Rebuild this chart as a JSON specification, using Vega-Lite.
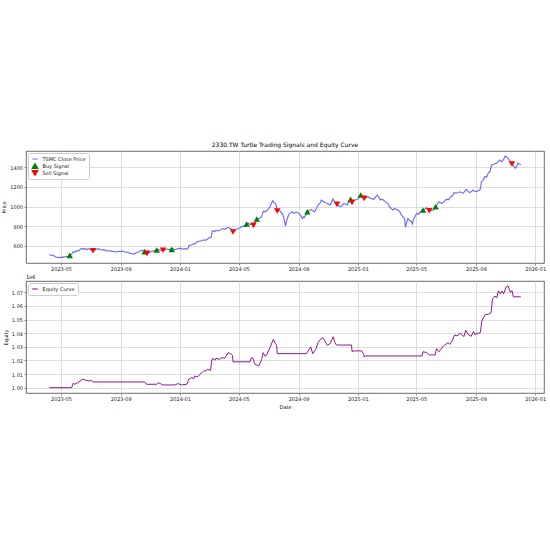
{
  "$schema": "https://vega.github.io/schema/vega-lite/v6.json",
  "background": "white",
  "padding": {"left": 1, "top": 141, "right": 4, "bottom": 4},
  "datasets": {
    "price": [
      {"date":"2023-04-07","close":508},{"date":"2023-04-11","close":503},{"date":"2023-04-13","close":505},{"date":"2023-04-17","close":496},{"date":"2023-04-19","close":490},{"date":"2023-04-21","close":485},{"date":"2023-04-25","close":478},{"date":"2023-04-27","close":482},{"date":"2023-05-02","close":480},{"date":"2023-05-04","close":486},{"date":"2023-05-08","close":483},{"date":"2023-05-11","close":492},{"date":"2023-05-15","close":488},{"date":"2023-05-19","close":502},{"date":"2023-05-23","close":515},{"date":"2023-05-26","close":539},{"date":"2023-05-30","close":532},{"date":"2023-06-01","close":550},{"date":"2023-06-05","close":545},{"date":"2023-06-08","close":556},{"date":"2023-06-12","close":573},{"date":"2023-06-15","close":566},{"date":"2023-06-19","close":570},{"date":"2023-06-22","close":563},{"date":"2023-06-27","close":568},{"date":"2023-06-30","close":560},{"date":"2023-07-04","close":563},{"date":"2023-07-06","close":549},{"date":"2023-07-10","close":558},{"date":"2023-07-13","close":565},{"date":"2023-07-17","close":570},{"date":"2023-07-20","close":562},{"date":"2023-07-25","close":556},{"date":"2023-07-28","close":560},{"date":"2023-08-02","close":550},{"date":"2023-08-07","close":546},{"date":"2023-08-10","close":550},{"date":"2023-08-15","close":540},{"date":"2023-08-18","close":543},{"date":"2023-08-23","close":536},{"date":"2023-08-28","close":544},{"date":"2023-08-31","close":540},{"date":"2023-09-05","close":546},{"date":"2023-09-08","close":538},{"date":"2023-09-12","close":533},{"date":"2023-09-15","close":536},{"date":"2023-09-20","close":522},{"date":"2023-09-25","close":518},{"date":"2023-09-28","close":515},{"date":"2023-10-03","close":528},{"date":"2023-10-06","close":533},{"date":"2023-10-11","close":545},{"date":"2023-10-13","close":556},{"date":"2023-10-17","close":548},{"date":"2023-10-20","close":540},{"date":"2023-10-25","close":522},{"date":"2023-10-30","close":530},{"date":"2023-11-02","close":538},{"date":"2023-11-07","close":546},{"date":"2023-11-10","close":550},{"date":"2023-11-14","close":556},{"date":"2023-11-17","close":560},{"date":"2023-11-21","close":552},{"date":"2023-11-24","close":558},{"date":"2023-11-27","close":554},{"date":"2023-12-01","close":560},{"date":"2023-12-05","close":566},{"date":"2023-12-08","close":562},{"date":"2023-12-12","close":565},{"date":"2023-12-15","close":563},{"date":"2023-12-19","close":568},{"date":"2023-12-22","close":560},{"date":"2023-12-27","close":570},{"date":"2024-01-02","close":575},{"date":"2024-01-05","close":565},{"date":"2024-01-10","close":570},{"date":"2024-01-15","close":563},{"date":"2024-01-18","close":580},{"date":"2024-01-19","close":600},{"date":"2024-01-24","close":607},{"date":"2024-01-29","close":620},{"date":"2024-01-31","close":617},{"date":"2024-02-05","close":640},{"date":"2024-02-15","close":651},{"date":"2024-02-19","close":660},{"date":"2024-02-22","close":655},{"date":"2024-02-26","close":665},{"date":"2024-02-29","close":679},{"date":"2024-03-05","close":686},{"date":"2024-03-07","close":745},{"date":"2024-03-08","close":753},{"date":"2024-03-12","close":745},{"date":"2024-03-15","close":760},{"date":"2024-03-19","close":752},{"date":"2024-03-22","close":755},{"date":"2024-03-26","close":767},{"date":"2024-03-29","close":775},{"date":"2024-04-03","close":770},{"date":"2024-04-08","close":788},{"date":"2024-04-11","close":782},{"date":"2024-04-15","close":774},{"date":"2024-04-19","close":740},{"date":"2024-04-23","close":760},{"date":"2024-04-26","close":767},{"date":"2024-04-30","close":775},{"date":"2024-05-06","close":788},{"date":"2024-05-09","close":800},{"date":"2024-05-14","close":795},{"date":"2024-05-17","close":821},{"date":"2024-05-21","close":830},{"date":"2024-05-24","close":815},{"date":"2024-05-28","close":825},{"date":"2024-05-31","close":808},{"date":"2024-06-04","close":835},{"date":"2024-06-07","close":872},{"date":"2024-06-12","close":880},{"date":"2024-06-17","close":896},{"date":"2024-06-19","close":935},{"date":"2024-06-21","close":954},{"date":"2024-06-25","close":944},{"date":"2024-06-28","close":960},{"date":"2024-07-01","close":975},{"date":"2024-07-04","close":998},{"date":"2024-07-08","close":1040},{"date":"2024-07-10","close":1059},{"date":"2024-07-12","close":1040},{"date":"2024-07-15","close":1032},{"date":"2024-07-17","close":1010},{"date":"2024-07-19","close":954},{"date":"2024-07-23","close":960},{"date":"2024-07-26","close":947},{"date":"2024-07-30","close":920},{"date":"2024-08-01","close":900},{"date":"2024-08-05","close":801},{"date":"2024-08-07","close":845},{"date":"2024-08-09","close":880},{"date":"2024-08-12","close":923},{"date":"2024-08-16","close":935},{"date":"2024-08-19","close":947},{"date":"2024-08-23","close":930},{"date":"2024-08-27","close":944},{"date":"2024-08-30","close":940},{"date":"2024-09-03","close":925},{"date":"2024-09-05","close":910},{"date":"2024-09-09","close":879},{"date":"2024-09-11","close":895},{"date":"2024-09-13","close":889},{"date":"2024-09-16","close":915},{"date":"2024-09-19","close":947},{"date":"2024-09-24","close":960},{"date":"2024-09-27","close":971},{"date":"2024-10-01","close":955},{"date":"2024-10-04","close":947},{"date":"2024-10-08","close":985},{"date":"2024-10-11","close":1015},{"date":"2024-10-15","close":1035},{"date":"2024-10-18","close":1066},{"date":"2024-10-22","close":1050},{"date":"2024-10-24","close":1045},{"date":"2024-10-29","close":1032},{"date":"2024-11-01","close":1025},{"date":"2024-11-05","close":1015},{"date":"2024-11-08","close":1050},{"date":"2024-11-11","close":1076},{"date":"2024-11-14","close":1045},{"date":"2024-11-19","close":1022},{"date":"2024-11-22","close":1010},{"date":"2024-11-26","close":998},{"date":"2024-11-29","close":1005},{"date":"2024-12-03","close":1032},{"date":"2024-12-06","close":1025},{"date":"2024-12-10","close":1015},{"date":"2024-12-13","close":1045},{"date":"2024-12-17","close":1073},{"date":"2024-12-20","close":1042},{"date":"2024-12-24","close":1060},{"date":"2024-12-27","close":1066},{"date":"2025-01-02","close":1080},{"date":"2025-01-07","close":1117},{"date":"2025-01-10","close":1095},{"date":"2025-01-14","close":1083},{"date":"2025-01-17","close":1090},{"date":"2025-01-22","close":1100},{"date":"2025-01-24","close":1090},{"date":"2025-02-03","close":1073},{"date":"2025-02-06","close":1095},{"date":"2025-02-10","close":1117},{"date":"2025-02-13","close":1095},{"date":"2025-02-17","close":1066},{"date":"2025-02-20","close":1075},{"date":"2025-02-24","close":1059},{"date":"2025-02-27","close":1045},{"date":"2025-03-04","close":1030},{"date":"2025-03-07","close":998},{"date":"2025-03-11","close":975},{"date":"2025-03-14","close":964},{"date":"2025-03-18","close":980},{"date":"2025-03-21","close":971},{"date":"2025-03-25","close":960},{"date":"2025-03-28","close":947},{"date":"2025-03-31","close":920},{"date":"2025-04-02","close":905},{"date":"2025-04-07","close":879},{"date":"2025-04-09","close":788},{"date":"2025-04-11","close":830},{"date":"2025-04-14","close":879},{"date":"2025-04-17","close":860},{"date":"2025-04-21","close":845},{"date":"2025-04-23","close":821},{"date":"2025-04-25","close":860},{"date":"2025-04-29","close":900},{"date":"2025-05-02","close":930},{"date":"2025-05-06","close":920},{"date":"2025-05-08","close":940},{"date":"2025-05-12","close":950},{"date":"2025-05-15","close":964},{"date":"2025-05-19","close":975},{"date":"2025-05-22","close":988},{"date":"2025-05-26","close":970},{"date":"2025-05-28","close":957},{"date":"2025-06-02","close":960},{"date":"2025-06-05","close":964},{"date":"2025-06-10","close":998},{"date":"2025-06-13","close":1020},{"date":"2025-06-16","close":1049},{"date":"2025-06-19","close":1040},{"date":"2025-06-23","close":1032},{"date":"2025-06-27","close":1050},{"date":"2025-07-02","close":1073},{"date":"2025-07-07","close":1070},{"date":"2025-07-11","close":1100},{"date":"2025-07-15","close":1110},{"date":"2025-07-18","close":1141},{"date":"2025-07-22","close":1135},{"date":"2025-07-25","close":1141},{"date":"2025-07-30","close":1150},{"date":"2025-08-05","close":1134},{"date":"2025-08-08","close":1150},{"date":"2025-08-12","close":1175},{"date":"2025-08-15","close":1160},{"date":"2025-08-19","close":1141},{"date":"2025-08-22","close":1150},{"date":"2025-08-26","close":1168},{"date":"2025-08-29","close":1155},{"date":"2025-09-02","close":1151},{"date":"2025-09-05","close":1160},{"date":"2025-09-09","close":1168},{"date":"2025-09-11","close":1200},{"date":"2025-09-12","close":1253},{"date":"2025-09-16","close":1270},{"date":"2025-09-19","close":1304},{"date":"2025-09-23","close":1300},{"date":"2025-09-26","close":1338},{"date":"2025-09-30","close":1360},{"date":"2025-10-03","close":1423},{"date":"2025-10-07","close":1430},{"date":"2025-10-13","close":1440},{"date":"2025-10-16","close":1455},{"date":"2025-10-20","close":1474},{"date":"2025-10-22","close":1460},{"date":"2025-10-24","close":1457},{"date":"2025-10-28","close":1480},{"date":"2025-10-31","close":1515},{"date":"2025-11-04","close":1500},{"date":"2025-11-06","close":1491},{"date":"2025-11-11","close":1457},{"date":"2025-11-14","close":1433},{"date":"2025-11-18","close":1410},{"date":"2025-11-21","close":1389},{"date":"2025-11-25","close":1420},{"date":"2025-11-26","close":1440},{"date":"2025-12-01","close":1430},{"date":"2025-12-02","close":1423}
    ],
    "signals": [
      {"date":"2023-05-19","close":502,"series":"Buy Signal"},
      {"date":"2023-07-06","close":549,"series":"Sell Signal"},
      {"date":"2023-10-20","close":540,"series":"Buy Signal"},
      {"date":"2023-10-25","close":522,"series":"Sell Signal"},
      {"date":"2023-11-14","close":556,"series":"Buy Signal"},
      {"date":"2023-11-27","close":554,"series":"Sell Signal"},
      {"date":"2023-12-15","close":563,"series":"Buy Signal"},
      {"date":"2024-04-19","close":740,"series":"Sell Signal"},
      {"date":"2024-05-17","close":821,"series":"Buy Signal"},
      {"date":"2024-05-31","close":808,"series":"Sell Signal"},
      {"date":"2024-06-07","close":872,"series":"Buy Signal"},
      {"date":"2024-07-19","close":954,"series":"Sell Signal"},
      {"date":"2024-09-19","close":947,"series":"Buy Signal"},
      {"date":"2024-11-19","close":1022,"series":"Sell Signal"},
      {"date":"2024-12-17","close":1073,"series":"Buy Signal"},
      {"date":"2024-12-20","close":1042,"series":"Sell Signal"},
      {"date":"2025-01-07","close":1117,"series":"Buy Signal"},
      {"date":"2025-01-14","close":1083,"series":"Sell Signal"},
      {"date":"2025-05-15","close":964,"series":"Buy Signal"},
      {"date":"2025-05-28","close":957,"series":"Sell Signal"},
      {"date":"2025-06-10","close":998,"series":"Buy Signal"},
      {"date":"2025-11-14","close":1433,"series":"Sell Signal"}
    ],
    "equity": [
      {"date":"2023-04-07","equity":1000000},{"date":"2023-05-23","equity":1000000},{"date":"2023-05-26","equity":1003200},{"date":"2023-05-29","equity":1002500},{"date":"2023-06-05","equity":1003700},{"date":"2023-06-14","equity":1006200},{"date":"2023-06-22","equity":1005400},{"date":"2023-06-29","equity":1004900},{"date":"2023-07-03","equity":1005400},{"date":"2023-07-06","equity":1004200},{"date":"2023-10-20","equity":1004200},{"date":"2023-10-24","equity":1002500},{"date":"2023-11-14","equity":1002500},{"date":"2023-11-17","equity":1003700},{"date":"2023-11-21","equity":1003000},{"date":"2023-11-24","equity":1002500},{"date":"2023-11-27","equity":1002000},{"date":"2023-12-21","equity":1002000},{"date":"2023-12-28","equity":1003000},{"date":"2024-01-04","equity":1002000},{"date":"2024-01-15","equity":1002500},{"date":"2024-01-19","equity":1006200},{"date":"2024-01-25","equity":1007400},{"date":"2024-01-29","equity":1006500},{"date":"2024-01-31","equity":1008600},{"date":"2024-02-05","equity":1007800},{"date":"2024-02-15","equity":1011000},{"date":"2024-02-20","equity":1012800},{"date":"2024-02-23","equity":1012200},{"date":"2024-02-26","equity":1013500},{"date":"2024-03-04","equity":1012800},{"date":"2024-03-06","equity":1019600},{"date":"2024-03-08","equity":1021600},{"date":"2024-03-13","equity":1020200},{"date":"2024-03-15","equity":1021600},{"date":"2024-03-22","equity":1020800},{"date":"2024-03-27","equity":1022000},{"date":"2024-04-02","equity":1021600},{"date":"2024-04-09","equity":1025700},{"date":"2024-04-16","equity":1024500},{"date":"2024-04-18","equity":1023500},{"date":"2024-04-19","equity":1019000},{"date":"2024-05-24","equity":1019000},{"date":"2024-05-27","equity":1022000},{"date":"2024-05-30","equity":1021600},{"date":"2024-06-03","equity":1017200},{"date":"2024-06-10","equity":1016000},{"date":"2024-06-12","equity":1016500},{"date":"2024-06-17","equity":1020800},{"date":"2024-06-20","equity":1025700},{"date":"2024-06-24","equity":1023200},{"date":"2024-06-27","equity":1023800},{"date":"2024-07-04","equity":1029300},{"date":"2024-07-11","equity":1035500},{"date":"2024-07-15","equity":1032500},{"date":"2024-07-18","equity":1031000},{"date":"2024-07-19","equity":1025000},{"date":"2024-09-17","equity":1025000},{"date":"2024-09-26","equity":1029800},{"date":"2024-09-30","equity":1025000},{"date":"2024-10-07","equity":1028600},{"date":"2024-10-11","equity":1033000},{"date":"2024-10-16","equity":1035500},{"date":"2024-10-21","equity":1036700},{"date":"2024-10-25","equity":1034300},{"date":"2024-10-30","equity":1031000},{"date":"2024-11-05","equity":1032500},{"date":"2024-11-11","equity":1037400},{"date":"2024-11-15","equity":1033000},{"date":"2024-11-18","equity":1031300},{"date":"2024-12-19","equity":1031300},{"date":"2024-12-20","equity":1026400},{"date":"2024-12-23","equity":1027000},{"date":"2025-01-09","equity":1027000},{"date":"2025-01-13","equity":1024500},{"date":"2025-01-14","equity":1022500},{"date":"2025-01-16","equity":1023300},{"date":"2025-05-13","equity":1023300},{"date":"2025-05-15","equity":1026400},{"date":"2025-05-22","equity":1025800},{"date":"2025-05-29","equity":1024000},{"date":"2025-06-09","equity":1024000},{"date":"2025-06-12","equity":1028600},{"date":"2025-06-17","equity":1026400},{"date":"2025-06-21","equity":1028200},{"date":"2025-06-26","equity":1030600},{"date":"2025-07-01","equity":1031800},{"date":"2025-07-06","equity":1033000},{"date":"2025-07-09","equity":1031800},{"date":"2025-07-14","equity":1034300},{"date":"2025-07-19","equity":1038700},{"date":"2025-07-24","equity":1038000},{"date":"2025-07-31","equity":1040000},{"date":"2025-08-07","equity":1037500},{"date":"2025-08-11","equity":1042100},{"date":"2025-08-16","equity":1039000},{"date":"2025-08-22","equity":1037700},{"date":"2025-08-27","equity":1041300},{"date":"2025-08-30","equity":1039000},{"date":"2025-09-06","equity":1040000},{"date":"2025-09-10","equity":1040400},{"date":"2025-09-13","equity":1048900},{"date":"2025-09-16","equity":1051300},{"date":"2025-09-21","equity":1053800},{"date":"2025-09-26","equity":1053800},{"date":"2025-10-02","equity":1055000},{"date":"2025-10-05","equity":1064900},{"date":"2025-10-10","equity":1067300},{"date":"2025-10-14","equity":1066100},{"date":"2025-10-17","equity":1071000},{"date":"2025-10-21","equity":1069000},{"date":"2025-10-24","equity":1071000},{"date":"2025-10-28","equity":1069000},{"date":"2025-11-02","equity":1073900},{"date":"2025-11-06","equity":1074600},{"date":"2025-11-11","equity":1070000},{"date":"2025-11-14","equity":1071200},{"date":"2025-11-17","equity":1066700},{"date":"2025-12-02","equity":1066700}
    ]
  },
  "vconcat": [
    {
      "width": 518,
      "height": 112,
      "title": {"text": "2330.TW Turtle Trading Signals and Equity Curve", "fontSize": 6, "fontWeight": "normal", "anchor": "middle", "frame": "group", "offset": 3, "color": "#000"},
      "encoding": {
        "x": {"field": "date", "type": "temporal", "title": null,
              "scale": {"type": "utc", "nice": false, "domain": [{"year":2023,"month":2,"date":18,"utc":true},{"year":2026,"month":1,"date":19,"utc":true}]},
              "axis": {"labelExpr": "utcFormat(datum.value, '%Y-%m')", "labelOverlap": false, "values": [{"year":2023,"month":5,"date":1,"utc":true},{"year":2023,"month":9,"date":1,"utc":true},{"year":2024,"month":1,"date":1,"utc":true},{"year":2024,"month":5,"date":1,"utc":true},{"year":2024,"month":9,"date":1,"utc":true},{"year":2025,"month":1,"date":1,"utc":true},{"year":2025,"month":5,"date":1,"utc":true},{"year":2025,"month":9,"date":1,"utc":true},{"year":2026,"month":1,"date":1,"utc":true}]}},
        "y": {"field": "close", "type": "quantitative", "title": "Price",
              "scale": {"domain": [424, 1566], "nice": false, "zero": false},
              "axis": {"values": [600, 800, 1000, 1200, 1400], "labelExpr": "format(datum.value, 'd')", "labelOverlap": false, "labelSeparation": 0}},
        "color": {"field": "series", "type": "nominal",
                  "scale": {"domain": ["TSMC Close Price", "Buy Signal", "Sell Signal"], "range": ["#6666ff", "#008000", "#ff0000"]},
                  "legend": {"title": null, "orient": "top-left", "symbolSize": 30, "rowPadding": 0, "padding": 2.5, "clipHeight": 7}}
      },
      "layer": [
        {
          "data": {"name": "price"},
          "transform": [{"calculate": "'TSMC Close Price'", "as": "series"}],
          "mark": {"type": "line", "strokeWidth": 1.1, "interpolate": "linear"}
        },
        {
          "data": {"name": "signals"},
          "mark": {"type": "point", "filled": true, "size": 42, "opacity": 1},
          "encoding": {
            "shape": {"field": "series", "type": "nominal",
                      "scale": {"domain": ["TSMC Close Price", "Buy Signal", "Sell Signal"], "range": ["stroke", "triangle-up", "triangle-down"]},
                      "legend": {"title": null, "orient": "top-left", "symbolSize": 30, "rowPadding": 0, "padding": 2.5, "clipHeight": 7}}
          }
        }
      ]
    },
    {
      "width": 518,
      "height": 112,
      "title": {"text": "1e6", "fontSize": 5, "fontWeight": "normal", "anchor": "start", "frame": "group", "offset": 1, "color": "#000"},
      "data": {"name": "equity"},
      "transform": [{"calculate": "'Equity Curve'", "as": "series"}],
      "mark": {"type": "line", "strokeWidth": 0.9},
      "encoding": {
        "x": {"field": "date", "type": "temporal", "title": "Date",
              "scale": {"type": "utc", "nice": false, "domain": [{"year":2023,"month":2,"date":18,"utc":true},{"year":2026,"month":1,"date":19,"utc":true}]},
              "axis": {"labelExpr": "utcFormat(datum.value, '%Y-%m')", "labelOverlap": false, "values": [{"year":2023,"month":5,"date":1,"utc":true},{"year":2023,"month":9,"date":1,"utc":true},{"year":2024,"month":1,"date":1,"utc":true},{"year":2024,"month":5,"date":1,"utc":true},{"year":2024,"month":9,"date":1,"utc":true},{"year":2025,"month":1,"date":1,"utc":true},{"year":2025,"month":5,"date":1,"utc":true},{"year":2025,"month":9,"date":1,"utc":true},{"year":2026,"month":1,"date":1,"utc":true}]}},
        "y": {"field": "equity", "type": "quantitative", "title": "Equity",
              "scale": {"domain": [996100, 1078300], "nice": false, "zero": false},
              "axis": {"values": [1000000, 1010000, 1020000, 1030000, 1040000, 1050000, 1060000, 1070000], "labelExpr": "format(datum.value / 1000000, '.2f')", "labelOverlap": false}},
        "color": {"field": "series", "type": "nominal",
                  "scale": {"domain": ["Equity Curve"], "range": ["#800080"]},
                  "legend": {"title": null, "orient": "top-left", "symbolType": "stroke", "symbolSize": 30, "padding": 2.5, "clipHeight": 7}}
      }
    }
  ],
  "spacing": 2,
  "resolve": {"scale": {"color": "independent", "shape": "independent"}, "legend": {"color": "independent", "shape": "independent"}},
  "config": {
    "font": "DejaVu Sans",
    "view": {"stroke": "#444", "strokeWidth": 0.8},
    "axis": {"labelFontSize": 5, "titleFontSize": 5, "titleFontWeight": "normal", "tickSize": 2, "labelPadding": 1.5, "titlePadding": 3, "gridColor": "#d4d4d4", "gridWidth": 0.8, "domain": false, "tickColor": "#444", "tickWidth": 0.6, "labelColor": "#222", "titleColor": "#000"},
    "legend": {"labelFontSize": 5, "labelColor": "#222", "symbolSize": 30, "symbolStrokeWidth": 1.2, "rowPadding": 0, "padding": 2.5, "offset": 2, "strokeColor": "#cccccc", "fillColor": "white", "cornerRadius": 2, "labelLimit": 200, "symbolOffset": 1, "clipHeight": 7}
  }
}
